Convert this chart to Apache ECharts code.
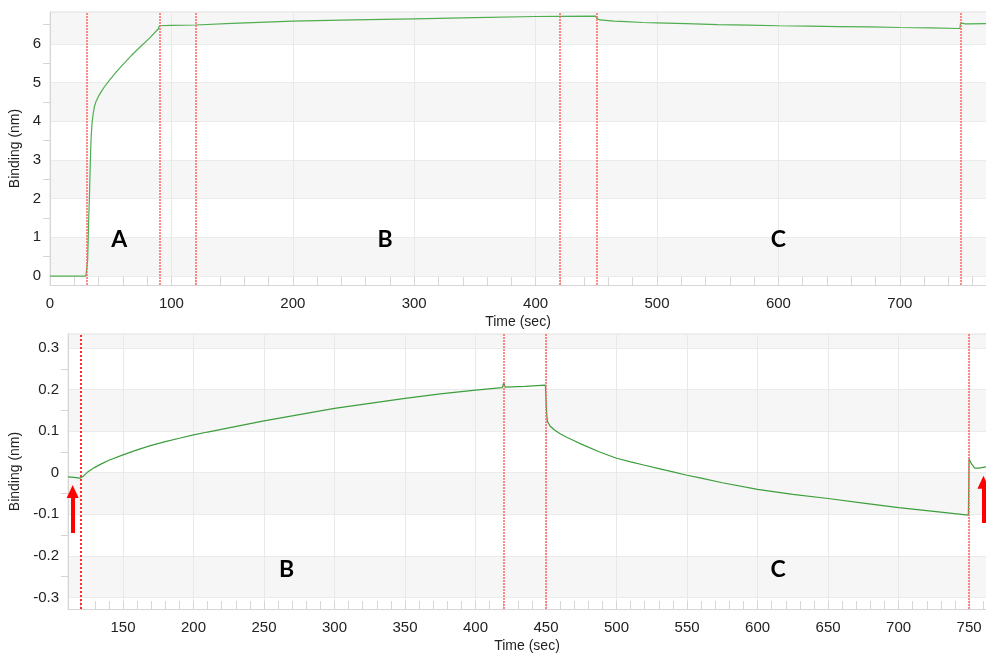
<!DOCTYPE html>
<html>
<head>
<meta charset="utf-8">
<script src="https://cdn.jsdelivr.net/npm/echarts@6/dist/echarts.min.js"></script>
<style>
  html, body { margin: 0; padding: 0; background: #fff; }
  #chart { width: 986px; height: 653px; }
</style>
</head>
<body>
<div id="chart"></div>
<script>
// Full sensorgram: baseline, loading (A), association (B), dissociation (C)
const fullTime = [0, 29.5, 30.5, 31, 31.5, 32, 32.4, 33, 33.5, 34, 34.6, 35.5, 36.5, 38, 40, 42.5, 45, 49.4, 55, 60.4,
  67, 74.2, 82, 89.5, 90, 100, 120, 150, 200, 250, 300, 350, 400, 419, 449.5, 450.5, 451, 453, 457.5, 464.6, 475,
  488, 500, 524, 550, 575, 600, 625, 650, 675, 700, 725, 749.5, 750, 752, 754, 757, 771];
const fullBinding = [0, 0, 0.02, 0.4, 1.0, 1.6, 1.96, 2.7, 3.25, 3.65, 3.94, 4.18, 4.37, 4.52, 4.65, 4.78, 4.90, 5.08,
  5.29, 5.48, 5.70, 5.92, 6.15, 6.40, 6.47, 6.48, 6.49, 6.53, 6.59, 6.62, 6.65, 6.68, 6.71, 6.715, 6.72, 6.66, 6.63,
  6.62, 6.61, 6.59, 6.575, 6.555, 6.545, 6.525, 6.50, 6.485, 6.47, 6.46, 6.45, 6.44, 6.425, 6.415, 6.40, 6.54, 6.53,
  6.52, 6.52, 6.525];

// Zoomed view of the association / dissociation steps (aligned at 120 s)
const zoomTime = [111, 115, 119.5, 120, 122, 125, 130, 135, 140, 150, 160, 170, 180, 190, 200, 210, 225, 250, 275,
  300, 325, 350, 375, 400, 419, 420, 421, 435, 449.5, 450, 450.5, 451, 453, 456, 460, 465, 470, 475, 488, 500, 510,
  520, 530, 540, 550, 560, 575, 600, 625, 650, 675, 700, 725, 749.5, 750, 752, 754, 757, 762];
const zoomBinding = [-0.010, -0.011, -0.013, -0.014, -0.008, 0.002, 0.013, 0.022, 0.030, 0.043, 0.055, 0.066, 0.075,
  0.083, 0.091, 0.098, 0.108, 0.125, 0.140, 0.155, 0.167, 0.179, 0.190, 0.199, 0.205, 0.217, 0.206, 0.208, 0.211,
  0.175, 0.140, 0.123, 0.112, 0.103, 0.094, 0.085, 0.077, 0.069, 0.050, 0.035, 0.026, 0.018, 0.010, 0.002, -0.006,
  -0.013, -0.024, -0.040, -0.052, -0.062, -0.073, -0.084, -0.093, -0.102, 0.033, 0.020, 0.011, 0.011, 0.014];

// Step boundaries (s)
const stepTimesFull = [30, 90, 120, 420, 450, 750];
const stepTimesZoom = [120, 420, 450, 750];

// Step annotations
const phaseLabelsFull = [
  { text: 'A', time: 57, binding: 0.95 },
  { text: 'B', time: 276, binding: 0.95 },
  { text: 'C', time: 600, binding: 0.95 }
];
const phaseLabelsZoom = [
  { text: 'B', time: 266, binding: -0.234 },
  { text: 'C', time: 614.5, binding: -0.234 }
];
// Arrows marking where the buffer steps begin
const arrowsZoom = [
  { time: 114.3, from: -0.145, to: -0.045 },
  { time: 760.2, from: -0.121, to: -0.023 }
];

const FONT = 'Liberation Sans, Arial, sans-serif';
const TXT = '#222';

function pairs(xs, ys) { return xs.map((x, i) => [x, ys[i]]); }

function valueXAxis(gridIndex, min, max, splitNumber, showMin) {
  return {
    type: 'value', gridIndex, min, max, splitNumber,
    name: 'Time (sec)', nameLocation: 'middle', nameGap: 30,
    nameTextStyle: { fontFamily: FONT, fontSize: 14, color: TXT },
    axisLine: { show: true, onZero: false, lineStyle: { color: '#d6d6d6' } },
    axisTick: { show: true, inside: true, length: 8, lineStyle: { color: '#d6d6d6' } },
    minorTick: { show: true, splitNumber: 5, length: 8, lineStyle: { color: '#d6d6d6' } },
    axisLabel: { fontFamily: FONT, fontSize: 15, color: TXT, margin: 11, showMinLabel: showMin, showMaxLabel: false },
    splitLine: { show: true, lineStyle: { color: '#e9e9e9' } }
  };
}

function valueYAxis(gridIndex, min, max, nameGap) {
  return {
    type: 'value', gridIndex, min, max, splitNumber: 7,
    name: 'Binding (nm)', nameLocation: 'middle', nameRotate: 90, nameGap,
    nameTextStyle: { fontFamily: FONT, fontSize: 14, color: TXT },
    axisLine: { show: true, onZero: false, lineStyle: { color: '#d6d6d6' } },
    axisTick: { show: false },
    minorTick: { show: true, splitNumber: 2, length: 7, lineStyle: { color: '#d6d6d6' } },
    axisLabel: { fontFamily: FONT, fontSize: 15, color: TXT, margin: 9, showMinLabel: false, showMaxLabel: false },
    splitLine: { show: true, lineStyle: { color: '#ebebeb' } },
    splitArea: { show: true, areaStyle: { color: ['#ffffff', '#f6f6f6'] } }
  };
}

function stepLines(times, firstStyle) {
  return {
    silent: true, symbol: 'none', animation: false,
    label: { show: false },
    data: times.map((t, i) => ({
      xAxis: t,
      lineStyle: (i === 0 && firstStyle) ? firstStyle : { color: '#ff6464', width: 1.5, type: [2, 1] }
    }))
  };
}

function phaseMarks(labels) {
  return {
    silent: true, symbol: 'circle', symbolSize: 0, animation: false,
    label: { show: true, position: 'inside', fontFamily: 'Lato, Open Sans, sans-serif', fontWeight: 'bold', fontSize: 23, color: '#000' },
    data: labels.map(l => ({ coord: [l.time, l.binding], value: l.text, label: { formatter: l.text } }))
  };
}

const chart = echarts.init(document.getElementById('chart'), null, { renderer: 'canvas' });

chart.setOption({
  animation: false,
  backgroundColor: '#ffffff',
  grid: [
    { left: 50, top: 12, width: 936, height: 273, outerBoundsMode: 'none', containLabel: false,
      show: true, borderColor: '#e2e2e2', borderWidth: 1, backgroundColor: 'transparent' },
    { left: 68, top: 334, width: 918, height: 275, outerBoundsMode: 'none', containLabel: false,
      show: true, borderColor: '#e2e2e2', borderWidth: 1, backgroundColor: 'transparent' }
  ],
  xAxis: [
    valueXAxis(0, 0, 771, 8, true),
    valueXAxis(1, 111, 762, 13, false)
  ],
  yAxis: [
    valueYAxis(0, -0.232, 6.826, 25),
    valueYAxis(1, -0.328, 0.334, 43)
  ],
  series: [
    {
      type: 'line', xAxisIndex: 0, yAxisIndex: 0,
      data: pairs(fullTime, fullBinding),
      showSymbol: false, smooth: false,
      lineStyle: { color: '#4fae4f', width: 1.2 },
      markLine: stepLines(stepTimesFull),
      markPoint: phaseMarks(phaseLabelsFull)
    },
    {
      type: 'line', xAxisIndex: 1, yAxisIndex: 1,
      data: pairs(zoomTime, zoomBinding),
      showSymbol: false, smooth: false,
      lineStyle: { color: '#3d9e3d', width: 1.2 },
      markLine: stepLines(stepTimesZoom, { color: '#ff2a2a', width: 2, type: [2, 2] }),
      markPoint: phaseMarks(phaseLabelsZoom)
    },
    {
      // red arrows, drawn in data space
      type: 'line', xAxisIndex: 1, yAxisIndex: 1, data: [], silent: true,
      markLine: {
        silent: true, animation: false,
        symbol: ['none', 'triangle'], symbolSize: [12, 13],
        label: { show: false },
        lineStyle: { color: '#ff0000', width: 4, type: 'solid' },
        data: arrowsZoom.map(a => [{ coord: [a.time, a.from] }, { coord: [a.time, a.to] }])
      }
    }
  ]
});
</script>
</body>
</html>
